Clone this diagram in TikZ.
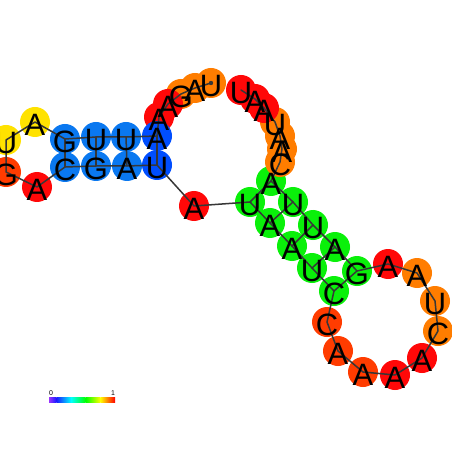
\documentclass[tikz,border=0pt]{standalone}
\usepackage{fontspec}
\setmainfont{Liberation Sans}
\definecolor{cOr}{RGB}{255,125,0}
\definecolor{cRO}{RGB}{255,60,0}
\definecolor{cRed}{RGB}{255,8,8}
\definecolor{cYel}{RGB}{255,226,0}
\definecolor{cBlue}{RGB}{10,120,240}
\definecolor{cDBlue}{RGB}{0,78,255}
\definecolor{cGreen}{RGB}{10,240,10}
\definecolor{lineC}{RGB}{55,55,55}
\tikzset{
  bb/.style={draw=lineC, line width=1.5bp, line cap=round, line join=round},
  pr/.style={draw=lineC, line width=1.5bp, line cap=round},
  lt/.style={font=\fontsize{31}{31}\selectfont, inner sep=0pt, anchor=center, yshift=-3bp},
  lab/.style={font=\fontsize{7}{7}\selectfont, inner sep=0pt}
}
\begin{document}
\begin{tikzpicture}[x=1bp,y=-1bp]
\useasboundingbox (0,0) rectangle (452,452);
\clip (0,0) rectangle (452,452);
\fill[white] (0,0) rectangle (452,452);
% coordinates
\coordinate (n1) at (211,83);
\coordinate (n2) at (195,88);
\coordinate (n3) at (181,94);
\coordinate (n4) at (168,104);
\coordinate (n5) at (159,117);
\coordinate (n6) at (157,136);
\coordinate (n7) at (126,137);
\coordinate (n8) at (96,137);
\coordinate (n9) at (65,139);
\coordinate (n10) at (35,122);
\coordinate (n11) at (6,140);
\coordinate (n12) at (6,172);
\coordinate (n13) at (37,187);
\coordinate (n14) at (65,167);
\coordinate (n15) at (96,166);
\coordinate (n16) at (127,166);
\coordinate (n17) at (157,165);
\coordinate (n18) at (194,206);
\coordinate (n19) at (250,202);
\coordinate (n20) at (270,223);
\coordinate (n21) at (292,246);
\coordinate (n22) at (312,268);
\coordinate (n23) at (334,291);
\coordinate (n24) at (327,322);
\coordinate (n25) at (338,351);
\coordinate (n26) at (363,372);
\coordinate (n27) at (395,375);
\coordinate (n28) at (422,358);
\coordinate (n29) at (438,331);
\coordinate (n30) at (435,301);
\coordinate (n31) at (417,273);
\coordinate (n32) at (388,264);
\coordinate (n33) at (357,271);
\coordinate (n34) at (335,247);
\coordinate (n35) at (313,225);
\coordinate (n36) at (293,202);
\coordinate (n37) at (271,181);
\coordinate (n38) at (280,162);
\coordinate (n39) at (282,149);
\coordinate (n40) at (280,136);
\coordinate (n41) at (275,122);
\coordinate (n42) at (264,108);
\coordinate (n43) at (255,99);
\coordinate (n44) at (241,90);
% circles
\foreach \i/\c in {1/cOr,2/cOr,3/cOr,4/cRed,5/cRed,6/cDBlue,7/cBlue,8/cBlue,9/cBlue,10/cYel,11/cYel,12/cRO,13/cRed,14/cBlue,15/cBlue,16/cBlue,17/cDBlue,18/cRed,19/cGreen,20/cGreen,21/cGreen,22/cGreen,23/cGreen,24/cRO,25/cRO,26/cRO,27/cRed,28/cRed,29/cOr,30/cOr,31/cOr,32/cRed,33/cGreen,34/cGreen,35/cGreen,36/cGreen,37/cGreen,38/cOr,39/cOr,40/cOr,41/cOr,42/cRed,43/cRed,44/cRed}
  \fill[\c] (n\i) circle (15bp);
% backbone
\draw[bb] (n1) -- (n2) -- (n3) -- (n4) -- (n5) -- (n6) -- (n7) -- (n8) -- (n9) -- (n10) -- (n11) -- (n12) -- (n13) -- (n14) -- (n15) -- (n16) -- (n17) -- (n18) -- (n19) -- (n20) -- (n21) -- (n22) -- (n23) -- (n24) -- (n25) -- (n26) -- (n27) -- (n28) -- (n29) -- (n30) -- (n31) -- (n32) -- (n33) -- (n34) -- (n35) -- (n36) -- (n37) -- (n38) -- (n39) -- (n40) -- (n41) -- (n42) -- (n43) -- (n44);
\fill[lineC] (n1) circle (2.2bp);
% pairs
\foreach \a/\b in {6/17,7/16,8/15,9/14,19/37,20/36,21/35,22/34,23/33}
  \draw[pr] (n\a) -- (n\b);
% letters
\foreach \i/\l in {1/U,2/A,3/G,4/A,5/A,6/A,7/U,8/U,9/G,10/A,11/U,12/G,13/A,14/C,15/G,16/A,17/U,18/A,19/U,20/A,21/A,22/U,23/C,24/C,25/A,26/A,27/A,28/A,29/C,30/U,31/A,32/A,33/G,34/A,35/U,36/U,37/A,38/C,39/A,40/A,41/U,42/A,43/A,44/U}
  \node[lt] (t\i) at (n\i) {\l};
% colour bar
\coordinate (b0) at (49,397);
\coordinate (b5) at (115,402);
\shade[left color={rgb,1:red,0.6;green,0.2;blue,1}, right color={rgb,1:red,0.1;green,0.1;blue,1}] (49,397) rectangle (56.3,402);
\shade[left color={rgb,1:red,0.1;green,0.1;blue,1}, right color={rgb,1:red,0;green,1;blue,1}] (56.3,397) rectangle (71,402);
\shade[left color={rgb,1:red,0;green,1;blue,1}, right color={rgb,1:red,0;green,1;blue,0}] (71,397) rectangle (85.7,402);
\shade[left color={rgb,1:red,0;green,1;blue,0}, right color={rgb,1:red,1;green,1;blue,0}] (85.7,397) rectangle (100.3,402);
\shade[left color={rgb,1:red,1;green,1;blue,0}, right color={rgb,1:red,1;green,0;blue,0}] (100.3,397) rectangle (115,402);
\node[lab] (l0) at (51,393) {0};
\node[lab] (l1) at (113,393) {1};
\end{tikzpicture}
\end{document}
